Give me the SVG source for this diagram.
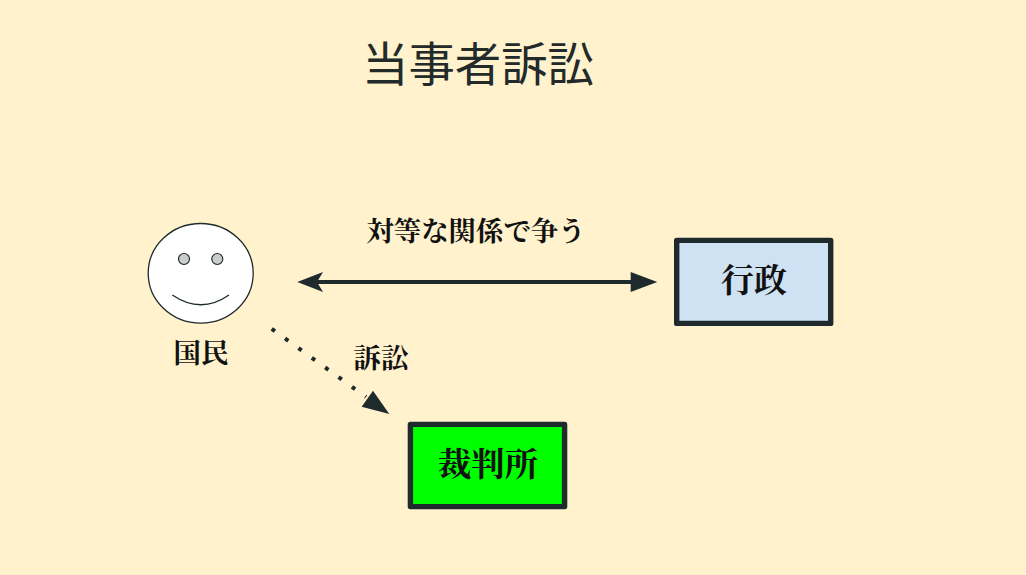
<svg xmlns="http://www.w3.org/2000/svg" width="1026" height="575" viewBox="0 0 1026 575">
<style>
.s{font-family:"Noto Sans CJK JP","Noto Sans",sans-serif;fill:#222a2a}
.b{font-family:"Noto Serif CJK JP","Noto Serif CJK SC",serif;font-weight:700;fill:#111}
.box{stroke:#1f2a2c;stroke-width:5.4;stroke-linejoin:round}
.c{stroke:#1f2a2c;fill:none}
.h{fill:#1f2a2c}
</style>
<rect width="1026" height="575" fill="#fff2cc"/>
<text class="s" x="478" y="81" font-size="46.4" text-anchor="middle">当事者訴訟</text>
<g id="connectors">
<line class="c" x1="310" y1="282" x2="640" y2="282" stroke-width="4"/>
<path class="h" d="M297.3 282L323 272L317 282L323 292Z"/>
<path class="h" d="M657.3 282L630.7 272V292Z"/>
<line class="c" x1="271.7" y1="328.8" x2="366" y2="397" stroke-width="4" stroke-dasharray="4 12.5"/>
<path class="h" d="M389.3 414L373 390.7L361.7 406.7Z"/>
</g>
<g id="kokumin">
<ellipse cx="200.7" cy="273.3" rx="52.5" ry="49.8" fill="#fff" stroke="#1f2a2c" stroke-width="1.3"/>
<circle cx="184" cy="259" r="5.5" fill="#ccc" stroke="#1f2a2c" stroke-width="1.2"/>
<circle cx="217.3" cy="259" r="5.5" fill="#ccc" stroke="#1f2a2c" stroke-width="1.2"/>
<path d="M172.3 295Q201 314.5 229 295" fill="none" stroke="#1f2a2c" stroke-width="1.3"/>
<text class="s b" x="201" y="363" font-size="27.4" text-anchor="middle">国民</text>
</g>
<text class="s b" x="476" y="241" font-size="27.4" text-anchor="middle">対等な関係で争う</text>
<text class="s b" x="381" y="368" font-size="27.4" text-anchor="middle">訴訟</text>
<g id="gyosei">
<rect class="box" x="676.7" y="240.4" width="154" height="83" fill="#cfe2f3"/>
<text class="s b" x="754" y="292" font-size="33" text-anchor="middle">行政</text>
</g>
<g id="saibansho">
<rect class="box" x="410.4" y="424.4" width="154.2" height="82.2" fill="#00ff00"/>
<text class="s b" x="488" y="476" font-size="33.3" text-anchor="middle">裁判所</text>
</g>
</svg>
